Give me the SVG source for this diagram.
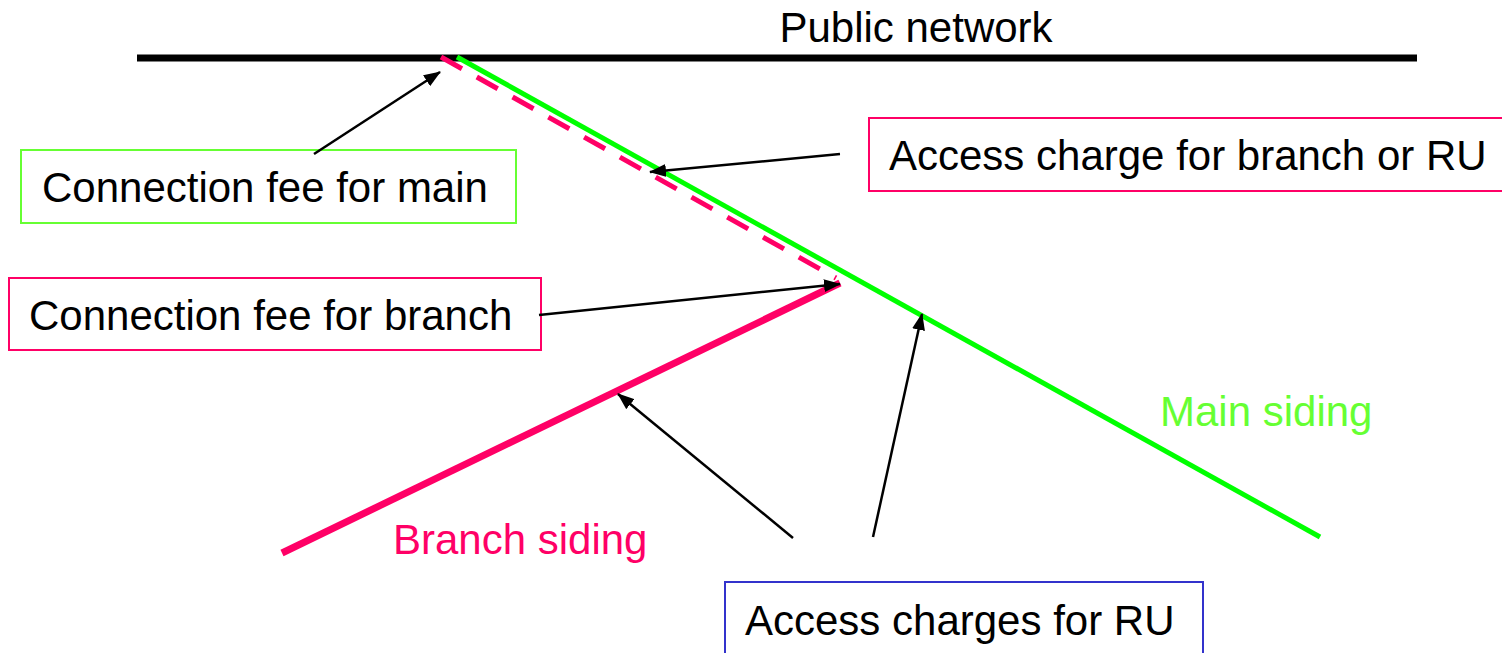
<svg xmlns="http://www.w3.org/2000/svg" width="1502" height="653" viewBox="0 0 1502 653">
<defs>
<style>
text{font-family:"Liberation Sans",Arial,sans-serif;font-size:42px;fill:#000}
.box{fill:#fff;stroke-width:2}
.conn{stroke:#000;stroke-width:2.5;fill:none;marker-end:url(#ah)}
</style>
<marker id="ah" markerWidth="17" markerHeight="13" refX="16" refY="6.5" orient="auto" markerUnits="userSpaceOnUse" viewBox="0 0 17 13">
<path d="M0,0 L17,6.5 L0,13 Z" fill="#000"/>
</marker>
</defs>
<rect width="1502" height="653" fill="#fff"/>
<g id="tracks">
<line x1="137" y1="58" x2="1417" y2="58" stroke="#000" stroke-width="7"/>
<line x1="457" y1="57" x2="1320" y2="537" stroke="#00FF00" stroke-width="5"/>
<line x1="441" y1="57" x2="836" y2="278" stroke="#FF0066" stroke-width="5" stroke-dasharray="24 17"/>
<line x1="282" y1="553" x2="840" y2="283" stroke="#FF0066" stroke-width="7"/>
</g>
<g id="labels">
<text x="916" y="42" text-anchor="middle">Public network</text>
<text x="1160" y="426" style="fill:#66FF33">Main siding</text>
<text x="393" y="554" style="fill:#FF0066">Branch siding</text>
</g>
<g id="node-main">
<rect class="box" x="21" y="150" width="495" height="73" stroke="#66FF33"/>
<text x="42" y="202">Connection fee for main</text>
</g>
<g id="node-branch">
<rect class="box" x="9" y="278" width="532" height="72" stroke="#FF0066"/>
<text x="29" y="330">Connection fee for branch</text>
</g>
<g id="node-access">
<rect class="box" x="869" y="118" width="640" height="73" stroke="#FF0066"/>
<text x="889" y="170">Access charge for branch or RU</text>
</g>
<g id="node-ru">
<rect class="box" x="725" y="582" width="478" height="80" stroke="#3333CC"/>
<text x="745" y="635">Access charges for RU</text>
</g>
<g id="connectors">
<line class="conn" x1="314" y1="154" x2="440" y2="72"/>
<line class="conn" x1="840" y1="154" x2="650" y2="172"/>
<line class="conn" x1="539" y1="315" x2="840" y2="284"/>
<line class="conn" x1="793" y1="538" x2="618" y2="394"/>
<line class="conn" x1="873" y1="537" x2="922" y2="314"/>
</g>
</svg>
